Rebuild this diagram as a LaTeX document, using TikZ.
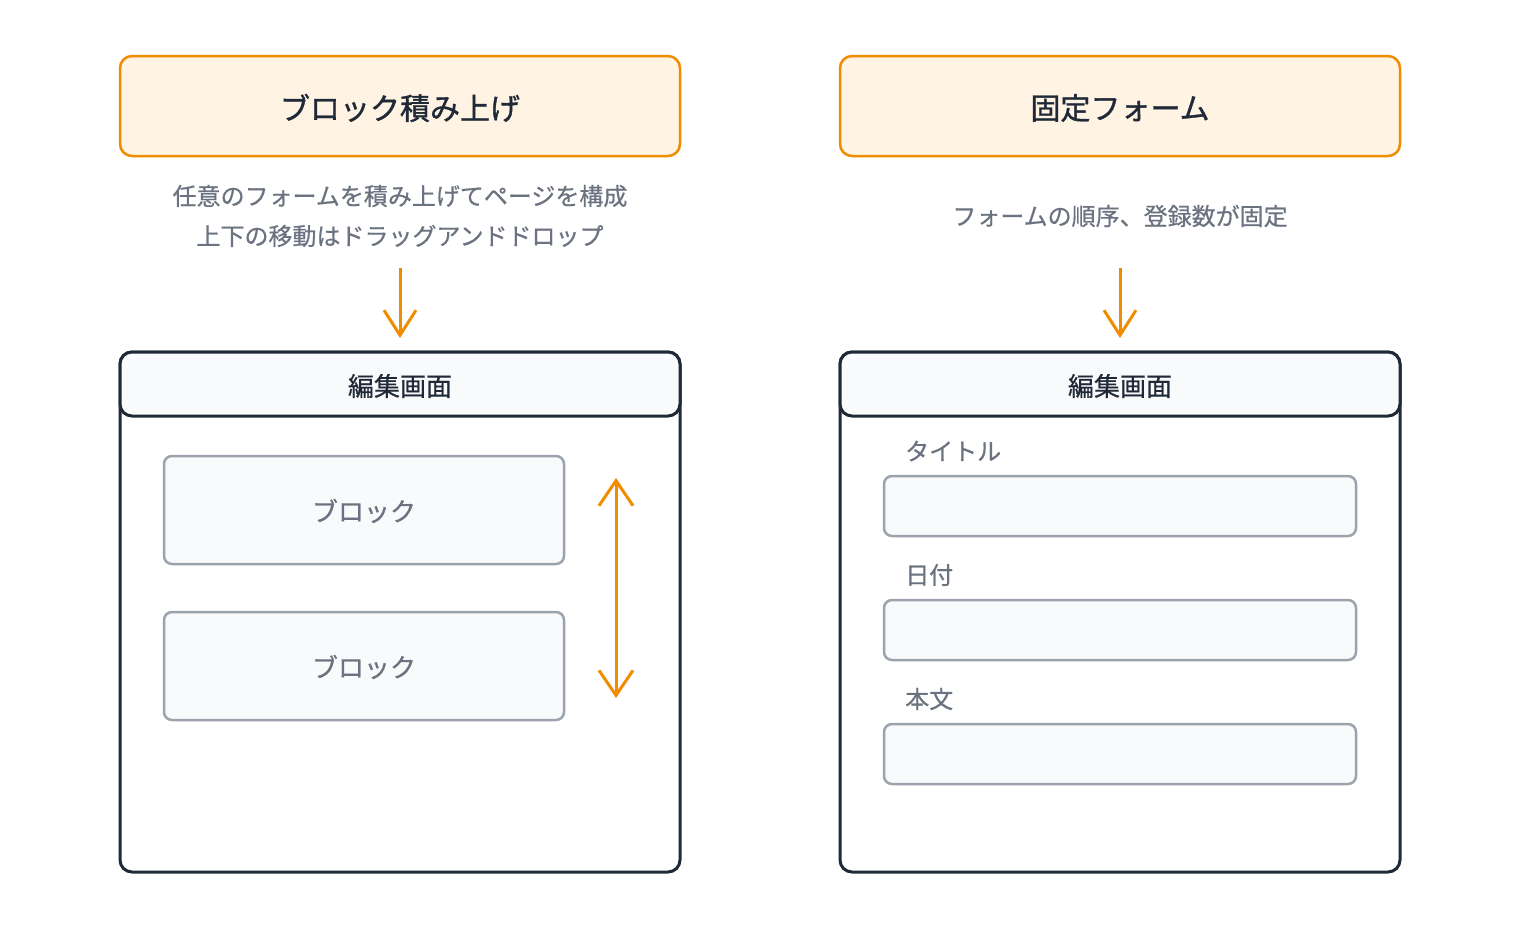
\documentclass[tikz,border=0pt]{standalone}
\usepackage{fontspec}
\setmainfont{Noto Sans CJK JP}
\newfontfamily\medfont[FakeBold=1.2]{Noto Sans CJK JP}
\newfontfamily\semifont[FakeBold=0.6]{Noto Sans CJK JP}
\usetikzlibrary{arrows.meta}
\definecolor{orng}{HTML}{F08C00}
\definecolor{orngfill}{HTML}{FFF3E3}
\definecolor{darkb}{HTML}{1F2937}
\definecolor{grayb}{HTML}{9CA3AF}
\definecolor{grayfill}{HTML}{F9FAFB}
\definecolor{graytext}{HTML}{6B7280}
\tikzset{
  titlebox/.style={draw=orng, fill=orngfill, line width=2.5pt, rounded corners=12pt,
    minimum width=560pt, minimum height=100pt, inner sep=0pt,
    label={[text=darkb, font=\medfont\fontsize{30}{34}\selectfont, yshift=-2pt, inner sep=0pt]center:#1}},
  screenbox/.style={draw=darkb, fill=white, line width=3pt, rounded corners=12pt,
    minimum width=560pt, minimum height=520pt, inner sep=0pt},
  headbox/.style={draw=darkb, fill=grayfill, line width=3pt, rounded corners=12pt,
    minimum width=560pt, minimum height=64pt, inner sep=0pt,
    label={[text=darkb, font=\semifont\fontsize{26}{30}\selectfont, yshift=-2pt, inner sep=0pt]center:#1}},
  blockbox/.style={draw=grayb, fill=grayfill, line width=2.5pt, rounded corners=8pt,
    minimum width=400pt, minimum height=108pt, inner sep=0pt,
    label={[text=graytext, font=\semifont\fontsize{26}{30}\selectfont, yshift=-1pt, inner sep=0pt]center:#1}},
  fieldbox/.style={draw=grayb, fill=grayfill, line width=2.5pt, rounded corners=8pt,
    minimum width=472pt, minimum height=60pt, inner sep=0pt},
  subtext/.style={text=graytext, font=\semifont\fontsize{24}{40}\selectfont, align=center, inner sep=0pt},
  lbl/.style={text=graytext, font=\semifont\fontsize{24}{28}\selectfont, anchor=west, inner sep=0pt},
  flow/.style={draw=orng, line width=3pt, -{Straight Barb[length=25pt,width=32pt,line width=3pt]}},
  bidir/.style={draw=orng, line width=3pt, {Straight Barb[length=25pt,width=34pt,line width=3pt]}-{Straight Barb[length=25pt,width=34pt,line width=3pt]}},
}
\begin{document}
\begin{tikzpicture}[x=1pt,y=-1pt]
\useasboundingbox (0,0) rectangle (1520,940);
% left column
\node[titlebox={ブロック積み上げ}] (lt) at (400,106) {};
\node[subtext] (ls) at (400,216) {任意のフォームを積み上げてページを構成\\上下の移動はドラッグアンドドロップ};
\coordinate (la1) at (400,268);
\coordinate (la2) at (400,338);
\draw[flow] (la1) -- (la2);
\node[screenbox] (lscr) at (400,612) {};
\node[headbox={編集画面}] (lh) at (400,384) {};
\node[blockbox={ブロック}] (b1) at (364,510) {};
\node[blockbox={ブロック}] (b2) at (364,666) {};
\coordinate (d1) at (616,478);
\coordinate (d2) at (616,698);
\draw[bidir] (d1) -- (d2);
% right column
\node[titlebox={固定フォーム}] (rt) at (1120,106) {};
\node[subtext] (rs) at (1120,216) {フォームの順序、登録数が固定};
\coordinate (ra1) at (1120,268);
\coordinate (ra2) at (1120,338);
\draw[flow] (ra1) -- (ra2);
\node[screenbox] (rscr) at (1120,612) {};
\node[headbox={編集画面}] (rh) at (1120,384) {};
\node[lbl] (l1) at (905,451) {タイトル};
\node[fieldbox] (f1) at (1120,506) {};
\node[lbl] (l2) at (905,575) {日付};
\node[fieldbox] (f2) at (1120,630) {};
\node[lbl] (l3) at (905,699) {本文};
\node[fieldbox] (f3) at (1120,754) {};
\end{tikzpicture}
\end{document}
